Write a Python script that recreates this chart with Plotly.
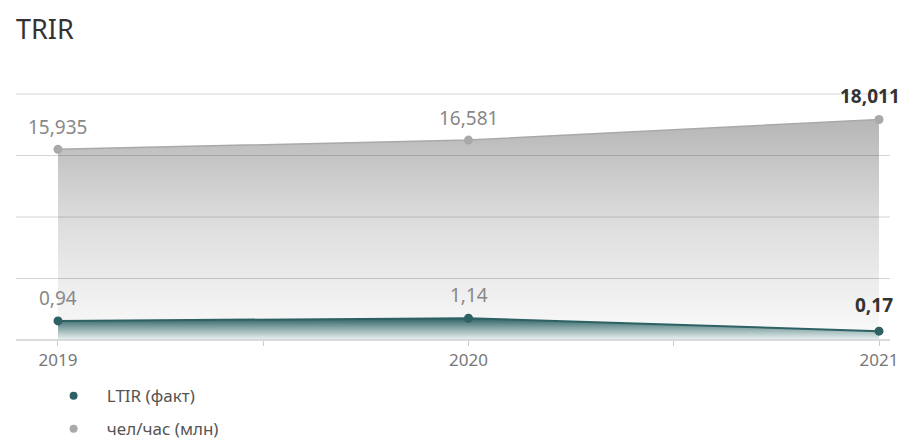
import plotly.graph_objects as go

# ---- data ----
years = [2019, 2020, 2021]
year_labels = ["2019", "2020", "2021"]
ltir = [0.94, 1.14, 0.17]
ltir_text = ["0,94", "1,14", "0,17"]
hours = [15.935, 16.581, 18.011]
hours_text = ["15,935", "16,581", "18,011"]
series_names = ["LTIR (факт)", "чел/час (млн)"]

# ---- style ----
FONT = "Noto Sans"
TEAL = "#2e6163"
GRAY = "#a9a9a9"
Y_GRAY_RANGE = [2.694, 19.78]
Y_TEAL_RANGE = [-0.496, 18.0]
X_RANGE = [years[0] - 0.1023, years[0] + 2.0268]
PAD = "\u00a0\u00a0\u00a0"

fig = go.Figure()

# gray area (чел/час)
fig.add_trace(go.Scatter(
    x=years, y=hours, mode="lines+markers", yaxis="y",
    line=dict(color=GRAY, width=1.5),
    marker=dict(color=GRAY, size=9),
    fill="tozeroy",
    fillgradient=dict(type="vertical",
                      colorscale=[[0, "#fbfbfb"], [0.55, "#dcdcdc"], [1, "#b6b6b6"]],
                      start=Y_GRAY_RANGE[0], stop=max(hours)),
    showlegend=False, hoverinfo="skip",
))

# teal baseline (axis floor) + teal area (LTIR)
fig.add_trace(go.Scatter(
    x=years, y=[Y_TEAL_RANGE[0]] * len(years), mode="lines", yaxis="y2",
    line=dict(width=0, color="rgba(0,0,0,0)"), showlegend=False, hoverinfo="skip",
))
fig.add_trace(go.Scatter(
    x=years, y=ltir, mode="lines+markers", yaxis="y2",
    line=dict(color=TEAL, width=2),
    marker=dict(color=TEAL, size=9),
    fill="tonexty",
    fillgradient=dict(type="vertical",
                      colorscale=[[0, "#eef3f3"], [0.6, "#7fa0a1"], [1, TEAL]],
                      start=Y_TEAL_RANGE[0], stop=max(ltir)),
    showlegend=False, hoverinfo="skip",
))

# legend-only traces
fig.add_trace(go.Scatter(x=[None], y=[None], mode="markers", name=PAD + series_names[0],
                         marker=dict(color=TEAL, size=8), legendgroup="a"))
fig.add_trace(go.Scatter(x=[None], y=[None], mode="markers", name=PAD + series_names[1],
                         marker=dict(color=GRAY, size=8), legendgroup="b"))

# value labels
last = len(years) - 1
for i, (x, v, t) in enumerate(zip(years, hours, hours_text)):
    bold = i == last
    fig.add_annotation(x=x, y=v, yref="y", text=f"<b>{t}</b>" if bold else t,
                       showarrow=False, yshift=23 if bold else 22,
                       xanchor="right" if bold else "center",
                       xshift=23 if bold else 0,
                       font=dict(family=FONT, size=19,
                                 color="#333333" if bold else "#888888"))
for i, (x, v, t) in enumerate(zip(years, ltir, ltir_text)):
    bold = i == last
    fig.add_annotation(x=x, y=v, yref="y2", text=f"<b>{t}</b>" if bold else t,
                       showarrow=False, yshift=26 if bold else 23,
                       xanchor="right" if bold else "center",
                       xshift=16 if bold else 0,
                       font=dict(family=FONT, size=19,
                                 color="#333333" if bold else "#888888"))

# grid lines drawn above the fills
for yy in [0.25, 0.5, 0.75, 1.0]:
    fig.add_shape(type="line", xref="paper", yref="paper", x0=0, x1=1, y0=yy, y1=yy,
                  line=dict(color="rgba(0,0,0,0.17)", width=1), layer="above")
fig.add_shape(type="line", xref="paper", yref="paper", x0=0, x1=1, y0=0, y1=0,
              line=dict(color="#cfcfcf", width=1.5), layer="above")

tickvals, ticktext = [], []
for i, (y, lab) in enumerate(zip(years, year_labels)):
    tickvals.append(y)
    ticktext.append(lab)
    if i < len(years) - 1:
        tickvals.append(y + 0.5)
        ticktext.append("")

fig.update_layout(
    width=903, height=441,
    margin=dict(l=16, r=13, t=94, b=101, autoexpand=False),
    paper_bgcolor="white", plot_bgcolor="white",
    font=dict(family=FONT, color="#666666"),
    title=dict(text="TRIR", x=16 / 903, xref="container", xanchor="left",
               y=1 - 30 / 441, yref="container", yanchor="middle",
               font=dict(family=FONT, size=27, color="#333333")),
    xaxis=dict(range=X_RANGE, tickvals=tickvals, ticktext=ticktext,
               showgrid=False, zeroline=False, showline=False,
               ticks="outside", ticklen=5, tickcolor="#cccccc",
               tickfont=dict(family=FONT, size=17, color="#777777")),
    yaxis=dict(range=Y_GRAY_RANGE, visible=False, showgrid=False, zeroline=False),
    yaxis2=dict(range=Y_TEAL_RANGE, overlaying="y", visible=False,
                showgrid=False, zeroline=False),
    legend=dict(x=0.043, xanchor="left", y=-0.155, yanchor="top",
                orientation="v", tracegroupgap=8,
                font=dict(family=FONT, size=17, color="#555555")),
    showlegend=True,
)

fig.write_html("out.html", config={"displayModeBar": False},
               post_script="document.body.style.margin='0';document.body.style.padding='0';")
